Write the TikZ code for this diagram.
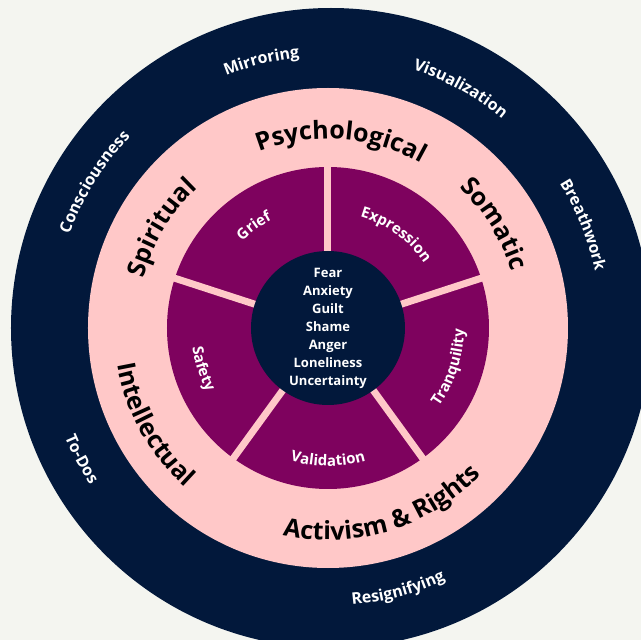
\documentclass[tikz,border=0pt]{standalone}
\usepackage{fontspec}
\setmainfont{Open Sans}
\usetikzlibrary{decorations.text}
\usepackage{xcolor}
\definecolor{paper}{HTML}{F4F5F0}
\definecolor{navy}{HTML}{02183B}
\definecolor{blush}{HTML}{FFC8C8}
\definecolor{plum}{HTML}{7E025E}

\newcommand{\ringfont}{\fontsize{25}{25}\selectfont\bfseries\color{black}}
\newcommand{\outerfont}{\fontsize{16}{16}\selectfont\bfseries\color{white}}
\newcommand{\petalfont}{\fontsize{15}{15}\selectfont\bfseries\color{white}}

\tikzstyle{divider} = [%
  draw=blush,
  line width=7pt,
  line cap=butt
]
\tikzstyle{core} = [%
  circle,
  fill=navy,
  minimum size=154pt,
  inner sep=0pt,
  align=center,
  text=white,
  font=\fontsize{13}{18}\selectfont\bfseries
]

\begin{document}
\begin{tikzpicture}[%
  curved/.style={%
    decorate,
    decoration={text along path, text align=center, text={#1}}
  }
]

  % Canvas
  \useasboundingbox (-328pt,-312pt) rectangle (313pt,328pt);
  \fill[paper] (-328pt,-312pt) rectangle (313pt,328pt);

  % Rings
  \fill[navy] (3pt,0pt) circle[radius=320pt];
  \fill[blush] (0,0) circle[radius=240pt];
  \fill[plum] (0,0) circle[radius=161pt];

  % Gaps between the petals
  \draw[divider] (0,0) -- (90:165pt);
  \draw[divider] (0,0) -- (162:165pt);
  \draw[divider] (0,0) -- (234:165pt);
  \draw[divider] (0,0) -- (306:165pt);
  \draw[divider] (0,0) -- (18:165pt);

  % Centre
  \node[core] (feelings) at (0,0) {Fear\\Anxiety\\Guilt\\Shame\\Anger\\Loneliness\\Uncertainty};

  % Petal labels
  \path[curved={|\petalfont|Grief}] (161:122pt) arc[start angle=161, end angle=91, radius=122pt];
  \path[curved={|\petalfont|Expression}] (89:116pt) arc[start angle=89, end angle=19, radius=116pt];
  \path[curved={|\petalfont|Tranquility}] (-53:136pt) arc[start angle=-53, end angle=17, radius=136pt];
  \path[curved={|\petalfont|Validation}] (235:138pt) arc[start angle=235, end angle=305, radius=138pt];
  \path[curved={|\petalfont|Safety}] (163:137pt) arc[start angle=163, end angle=233, radius=137pt];

  % Middle ring labels
  \path[curved={|\ringfont|Psychological}] (126:189pt) arc[start angle=126, end angle=46, radius=189pt];
  \path[curved={|\ringfont|Somatic}] (72:192pt) arc[start angle=72, end angle=-8, radius=192pt];
  \path[curved={|\ringfont|Spiritual}] (189:191pt) arc[start angle=189, end angle=109, radius=191pt];
  \path[curved={|\ringfont|Intellectual}] (164:214pt) arc[start angle=164, end angle=254, radius=214pt];
  \path[curved={|\ringfont|Activism {\&} Rights}] (237:212pt) arc[start angle=237, end angle=337, radius=212pt];

  % Outer ring labels
  \path[curved={|\outerfont|Mirroring}] (134:272pt) arc[start angle=134, end angle=74, radius=272pt];
  \path[curved={|\outerfont|Visualization}] (91:272pt) arc[start angle=91, end angle=31, radius=272pt];
  \path[curved={|\outerfont|Breathwork}] (52:273pt) arc[start angle=52, end angle=-8, radius=273pt];
  \path[curved={|\outerfont|Consciousness}] (178:275pt) arc[start angle=178, end angle=118, radius=275pt];
  \path[curved={|\outerfont|To-Dos}] (178:285pt) arc[start angle=178, end angle=238, radius=285pt];
  \path[curved={|\outerfont|Resignifying}] (255:278pt) arc[start angle=255, end angle=315, radius=278pt];

\end{tikzpicture}
\end{document}
